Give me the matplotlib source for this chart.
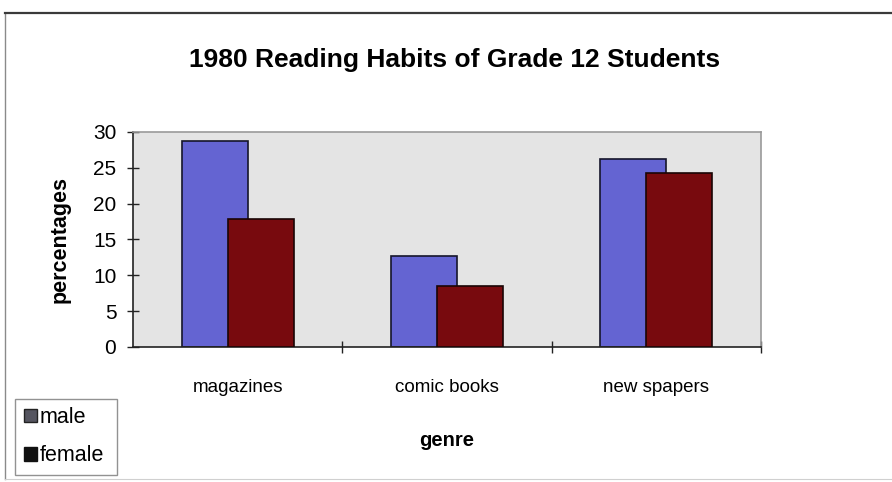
import numpy as np
import matplotlib.pyplot as plt
from matplotlib.patches import Rectangle
from matplotlib.lines import Line2D

# reading habits, grade 12, 1980 (percent of students)
genres = ["magazines", "comic books", "new spapers"]
male = [28.8, 12.7, 26.3]
female = [17.9, 8.5, 24.3]

male_color = "#6464d2"
female_color = "#780a0e"

plt.rcParams["font.family"] = ["Liberation Sans", "DejaVu Sans"]

fig = plt.figure(figsize=(8.92, 4.82), dpi=100)
fig.patch.set_facecolor("white")

# outer chart frame
fig.add_artist(Line2D([5 / 892, 5 / 892], [1 - 13 / 482, 1 - 479 / 482], transform=fig.transFigure, color="#8a8a8a", lw=1.0))
fig.add_artist(Line2D([5 / 892, 1.0], [1 - 13 / 482, 1 - 13 / 482], transform=fig.transFigure, color="#3a3a3a", lw=1.6))
fig.add_artist(Line2D([5 / 892, 1.0], [1 - 479 / 482, 1 - 479 / 482], transform=fig.transFigure, color="#d0d0d0", lw=0.8))

ax = fig.add_axes([133 / 892, 1 - 347 / 482, (761 - 133) / 892, (347 - 132) / 482])
ax.set_facecolor("#e4e4e4")

x = np.arange(len(genres))
width = 0.315
offset = 0.11
ax.bar(x - offset, male, width, color=male_color, edgecolor="#15152a", linewidth=1.2, zorder=2)
ax.bar(x + offset, female, width, color=female_color, edgecolor="#1a0505", linewidth=1.2, zorder=3)

ax.set_xlim(-0.5, 2.5)
ax.set_ylim(0, 30)

# category boundaries get the ticks, names sit in between
ax.set_xticks([0.5, 1.5, 2.5])
ax.set_xticklabels([])
ax.set_xticks(x, minor=True)
ax.set_xticklabels(genres, minor=True, fontsize=13.5)
ax.tick_params(axis="x", which="major", direction="inout", length=9, width=1, color="#222222")
ax.tick_params(axis="x", which="minor", length=0, pad=23)

ax.set_yticks(range(0, 31, 5))
ax.tick_params(axis="y", direction="inout", length=8, width=1, color="#222222", labelsize=15, pad=8)

for side in ["left", "bottom"]:
    ax.spines[side].set_color("#222222")
    ax.spines[side].set_linewidth(1.2)
for side in ["top", "right"]:
    ax.spines[side].set_color("#9a9a9a")
    ax.spines[side].set_linewidth(1.2)

ax.set_ylabel("percentages", fontsize=15.5, fontweight="bold", labelpad=16)
ax.set_xlabel("genre", fontsize=14.5, fontweight="bold", labelpad=25)

fig.text(455 / 892, 1 - 60 / 482, "1980 Reading Habits of Grade 12 Students",
         ha="center", va="center", fontsize=19, fontweight="bold")

# legend box, bottom left
handles = [Rectangle((0, 0), 1, 1, facecolor="#555560", edgecolor="#222222"),
           Rectangle((0, 0), 1, 1, facecolor="#111111", edgecolor="#111111")]
leg = fig.legend(handles, ["male", "female"], loc="lower left",
                 bbox_to_anchor=(15 / 892, 1 - 475 / 482, 102 / 892, 78 / 482),
                 mode="expand", fontsize=15.5, frameon=True, fancybox=False,
                 handlelength=0.6, handleheight=0.6, handletextpad=0.15,
                 labelspacing=0.8, borderpad=0.4, borderaxespad=0)
leg.get_frame().set_edgecolor("#777777")
leg.get_frame().set_linewidth(1.0)

fig.savefig("out.png", dpi=100)
